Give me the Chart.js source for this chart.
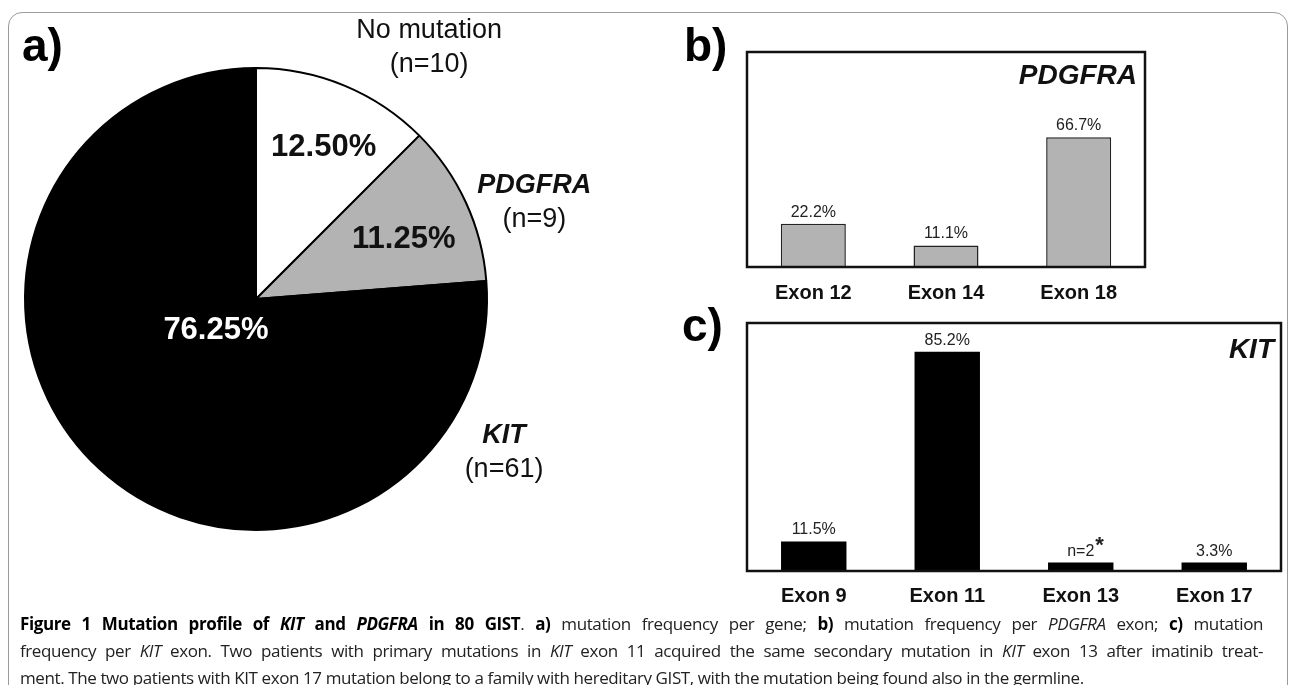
<!DOCTYPE html>
<html>
<head>
<meta charset="utf-8">
<script src="https://cdn.jsdelivr.net/npm/chart.js@4.4.0/dist/chart.umd.min.js"></script>
<style>
  body { margin: 0; width: 1289px; height: 685px; overflow: hidden; background: #fff; position: relative;
         font-family: "Liberation Sans", Arial, sans-serif; }
  .frame { position: absolute; left: 8px; top: 12px; width: 1278px; height: 720px;
           border: 1.5px solid #9a9a9a; border-radius: 14px; }
  .panel { position: absolute; z-index: 2; font-weight: bold; font-size: 46px; line-height: 1; color: #000; }
  canvas { position: absolute; }
  .caption { position: absolute; left: 20px; top: 610px; width: 1243px; font-family: "Open Sans", sans-serif;
             font-size: 17px; letter-spacing: -0.4px; color: #222; }
  .caption div { height: 27px; line-height: 27px; white-space: nowrap; }
  .caption .j { text-align: justify; text-align-last: justify; white-space: normal; }
  .caption b { color: #000; }
</style>
</head>
<body>
<div class="frame"></div>
<div class="panel" style="left:22px; top:22px;">a)</div>
<div class="panel" style="left:684px; top:22px;">b)</div>
<div class="panel" style="left:682px; top:302px;">c)</div>

<canvas id="pie" width="700" height="600" style="left:0; top:0;"></canvas>
<canvas id="barB" width="589" height="330" style="left:700px; top:0;"></canvas>
<canvas id="barC" width="589" height="330" style="left:700px; top:300px;"></canvas>

<div class="caption">
  <div class="j"><b>Figure 1 Mutation profile of <i>KIT</i> and <i>PDGFRA</i> in 80 GIST</b>. <b>a)</b> mutation frequency per gene; <b>b)</b> mutation frequency per <i>PDGFRA</i> exon; <b>c)</b> mutation</div>
  <div class="j">frequency per <i>KIT</i> exon. Two patients with primary mutations in <i>KIT</i> exon 11 acquired the same secondary mutation in <i>KIT</i> exon 13 after imatinib treat-</div>
  <div>ment. The two patients with KIT exon 17 mutation belong to a family with hereditary GIST, with the mutation being found also in the germline.</div>
</div>

<script>
// a) mutation per gene (80 GIST)
const pieLabels = ['No mutation', 'PDGFRA', 'KIT'];
const pieCounts = [10, 9, 61];
const pieColors = ['#ffffff', '#b3b3b3', '#000000'];

// b) PDGFRA exons
const pdgfraExons = ['Exon 12', 'Exon 14', 'Exon 18'];
const pdgfraPct = [22.2, 11.1, 66.7];
const pdgfraValueLabels = ['22.2%', '11.1%', '66.7%'];

// c) KIT exons
const kitExons = ['Exon 9', 'Exon 11', 'Exon 13', 'Exon 17'];
const kitPct = [11.5, 85.2, 3.3, 3.3];
const kitValueLabels = ['11.5%', '85.2%', 'n=2', '3.3%'];
const kitStarred = [false, false, true, false];

// label spots on the pie: angle in degrees clockwise from top, radius as fraction of pie radius
const innerSpots = [{a: 24, r: 0.72}, {a: 68, r: 0.69}, {a: 232, r: 0.22}];
const outerSpots = [{a: 34.6, r: 1.32}, {a: 70.9, r: 1.275}, {a: 121.7, r: 1.262}];
const innerTextColor = ['#111', '#111', '#fff'];
const nameFont = ['27px', 'italic bold 27px', 'italic bold 27px'];

const FONT = '"Liberation Sans", Arial, sans-serif';

const pieLabelPlugin = {
  id: 'pieLabels',
  afterDatasetsDraw(chart) {
    const ctx = chart.ctx;
    const meta = chart.getDatasetMeta(0);
    const total = pieCounts.reduce((s, v) => s + v, 0);
    ctx.save();
    ctx.textAlign = 'center';
    ctx.textBaseline = 'middle';
    meta.data.forEach((arc, i) => {
      const {x, y, outerRadius} = arc.getProps(['x', 'y', 'outerRadius'], true);
      const spot = (s) => {
        const rad = s.a * Math.PI / 180;
        return [x + s.r * outerRadius * Math.sin(rad), y - s.r * outerRadius * Math.cos(rad)];
      };
      const [ix, iy] = spot(innerSpots[i]);
      ctx.font = 'bold 31px ' + FONT;
      ctx.fillStyle = innerTextColor[i];
      ctx.fillText((pieCounts[i] / total * 100).toFixed(2) + '%', ix, iy);

      const [ox, oy] = spot(outerSpots[i]);
      ctx.fillStyle = '#111';
      ctx.font = nameFont[i] + ' ' + FONT;
      ctx.fillText(pieLabels[i], ox, oy - 17);
      ctx.font = '27px ' + FONT;
      ctx.fillText('(n=' + pieCounts[i] + ')', ox, oy + 17);
    });
    ctx.restore();
  }
};

new Chart(document.getElementById('pie'), {
  type: 'pie',
  data: {
    labels: pieLabels,
    datasets: [{
      data: pieCounts,
      backgroundColor: pieColors,
      borderColor: '#000',
      borderWidth: 2
    }]
  },
  options: {
    responsive: false,
    animation: false,
    layout: { padding: { left: 24, top: 67, right: 212, bottom: 69 } },
    plugins: { legend: { display: false }, tooltip: { enabled: false } }
  },
  plugins: [pieLabelPlugin]
});

// box around the plot, values above bars, gene name in the corner
const barDecor = {
  id: 'barDecor',
  afterDatasetsDraw(chart, args, opts) {
    const ctx = chart.ctx;
    const area = chart.chartArea;
    ctx.save();
    ctx.strokeStyle = '#111';
    ctx.lineWidth = 2.5;
    ctx.strokeRect(area.left, area.top, area.width, area.height);

    ctx.font = 'italic bold 28px ' + FONT;
    ctx.fillStyle = '#111';
    ctx.textAlign = 'right';
    ctx.textBaseline = 'middle';
    ctx.fillText(opts.title, area.right - opts.titleInset, area.top + opts.titleDrop);

    const meta = chart.getDatasetMeta(0);
    ctx.font = '16px ' + FONT;
    ctx.fillStyle = '#222';
    ctx.textAlign = 'center';
    ctx.textBaseline = 'alphabetic';
    meta.data.forEach((bar, i) => {
      const txt = opts.values[i];
      ctx.fillText(txt, bar.x, bar.y - 7);
      if (opts.starred && opts.starred[i]) {
        const w = ctx.measureText(txt).width;
        ctx.save();
        ctx.font = 'bold 22px ' + FONT;
        ctx.textAlign = 'left';
        ctx.fillText('*', bar.x + w / 2 + 1, bar.y - 11);
        ctx.restore();
      }
    });
    ctx.restore();
  }
};

function barOptions(yMax, padding, tickPad, decor) {
  return {
    responsive: false,
    animation: false,
    layout: { padding: padding },
    scales: {
      x: {
        grid: { display: false, drawTicks: false },
        border: { display: false },
        ticks: { color: '#111', padding: tickPad, font: { family: FONT, size: 20, weight: 'bold' } }
      },
      y: { display: false, min: 0, max: yMax }
    },
    plugins: { legend: { display: false }, tooltip: { enabled: false }, barDecor: decor }
  };
}

new Chart(document.getElementById('barB'), {
  type: 'bar',
  data: {
    labels: pdgfraExons,
    datasets: [{
      data: pdgfraPct,
      backgroundColor: '#b3b3b3',
      borderColor: '#222',
      borderWidth: 1.5,
      categoryPercentage: 1,
      barPercentage: 0.49
    }]
  },
  options: barOptions(110.5, { left: 47, right: 144, top: 52, bottom: 11 }, 14,
    { title: 'PDGFRA', titleInset: 8, titleDrop: 24, values: pdgfraValueLabels }),
  plugins: [barDecor]
});

new Chart(document.getElementById('barC'), {
  type: 'bar',
  data: {
    labels: kitExons,
    datasets: [{
      data: kitPct,
      backgroundColor: '#000',
      borderColor: '#000',
      borderWidth: 0,
      categoryPercentage: 1,
      barPercentage: 0.49
    }]
  },
  options: barOptions(96.4, { left: 47, right: 8, top: 23, bottom: 9 }, 13,
    { title: 'KIT', titleInset: 7, titleDrop: 27, values: kitValueLabels, starred: kitStarred }),
  plugins: [barDecor]
});
</script>
</body>
</html>
